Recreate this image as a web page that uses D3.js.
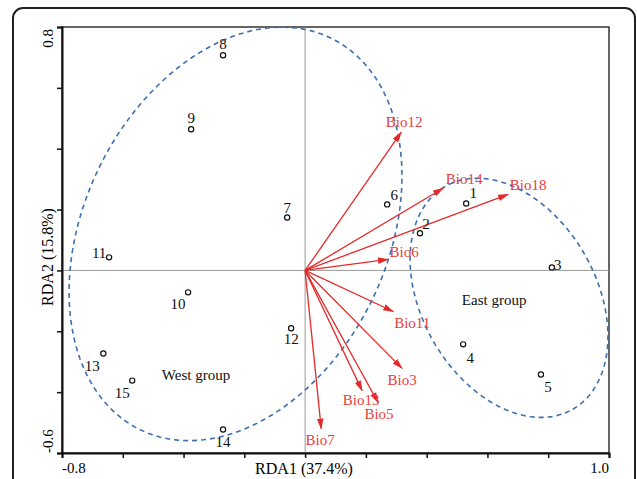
<!DOCTYPE html>
<html>

<head>
    <title>RDA biplot</title>
    <script src="https://d3js.org/d3.v7.min.js"></script>
    <style>
        body { margin: 0; background: #fff; }
        text { font-family: "Liberation Serif", "Times New Roman", serif; }
    </style>
</head>

<body>

    <svg width="637" height="479" id="mainSvg"></svg>
    <script>

        // sites (scores on RDA1 / RDA2)
        const sites = ["1", "2", "3", "4", "5", "6", "7", "8", "9", "10", "11", "12", "13", "14", "15"];
        const siteX = [0.53, 0.378, 0.812, 0.52, 0.776, 0.27, -0.059, -0.27, -0.375, -0.385, -0.645, -0.046, -0.664, -0.27, -0.569];
        const siteY = [0.22, 0.122, 0.01, -0.243, -0.342, 0.217, 0.174, 0.707, 0.464, -0.072, 0.043, -0.19, -0.273, -0.523, -0.362];

        // environmental vectors
        const bios = ["Bio12", "Bio14", "Bio18", "Bio6", "Bio11", "Bio3", "Bio13", "Bio5", "Bio7"];
        const bioX = [0.316, 0.454, 0.668, 0.273, 0.29, 0.319, 0.1875, 0.24, 0.053];
        const bioY = [0.454, 0.27, 0.25, 0.036, -0.135, -0.322, -0.395, -0.434, -0.52];

        // group ellipses: centre, semi axes, rotation (deg)
        const groups = ["West group", "East group"];
        const ellCX = [-0.229, 0.671];
        const ellCY = [0.12, -0.09];
        const ellA = [0.716, 0.422];
        const ellB = [0.499, 0.287];
        const ellAngle = [63.9, -60.2];
        const groupLabelX = [-0.359, 0.622];
        const groupLabelY = [-0.344, -0.097];

        const xTicks = [-0.8, -0.6, -0.4, -0.2, 0, 0.2, 0.4, 0.6, 0.8, 1.0];
        const yTicks = [-0.6, -0.4, -0.2, 0, 0.2, 0.4, 0.6, 0.8];
        const xTitle = "RDA1 (37.4%)";
        const yTitle = "RDA2 (15.8%)";

        const svg = d3.select("#mainSvg");
        const margin = { top: 27, right: 28, bottom: 26, left: 62 };
        const width = 637, height = 479;

        const x = d3.scaleLinear().domain([-0.8, 1.0]).range([margin.left, width - margin.right]);
        const y = d3.scaleLinear().domain([-0.6, 0.8]).range([height - margin.bottom, margin.top]);

        const red = "#e32a2a";
        const redText = "#e8403a";
        const blue = "#3d6fae";

        // outer rounded frame
        svg.append("rect")
            .attr("x", 13).attr("y", 8)
            .attr("width", 622).attr("height", 520)
            .attr("rx", 10)
            .attr("fill", "none")
            .attr("stroke", "#222")
            .attr("stroke-width", 2);

        // plot frame
        svg.append("rect")
            .attr("x", x(-0.8)).attr("y", y(0.8))
            .attr("width", x(1.0) - x(-0.8))
            .attr("height", y(-0.6) - y(0.8))
            .attr("fill", "none")
            .attr("stroke", "#333")
            .attr("stroke-width", 1.5);

        // zero lines
        svg.append("line")
            .attr("x1", x(0)).attr("x2", x(0))
            .attr("y1", y(0.8)).attr("y2", y(-0.6))
            .attr("stroke", "#999").attr("stroke-width", 1);
        svg.append("line")
            .attr("x1", x(-0.8)).attr("x2", x(1.0))
            .attr("y1", y(0)).attr("y2", y(0))
            .attr("stroke", "#999").attr("stroke-width", 1);

        // axes
        const xAxis = svg.append("g")
            .attr("transform", `translate(0, ${y(-0.6)})`)
            .call(d3.axisBottom(x).tickValues(xTicks).tickSize(5).tickFormat(""));
        const yAxis = svg.append("g")
            .attr("transform", `translate(${x(-0.8)}, 0)`)
            .call(d3.axisLeft(y).tickValues(yTicks).tickSize(5).tickFormat(""));
        [xAxis, yAxis].forEach(a => {
            a.select(".domain").attr("stroke", "#111").attr("stroke-width", 2);
            a.selectAll(".tick line").attr("stroke", "#111").attr("stroke-width", 1.5);
        });

        // end tick labels
        svg.append("text").attr("x", x(-0.8)).attr("y", 473)
            .attr("font-size", 15).attr("text-anchor", "start").text("-0.8");
        svg.append("text").attr("x", x(1.0)).attr("y", 473)
            .attr("font-size", 15).attr("text-anchor", "end").text("1.0");
        svg.append("text").attr("transform", `translate(53, ${y(0.8) + 2}) rotate(-90)`)
            .attr("font-size", 15).attr("text-anchor", "end").text("0.8");
        svg.append("text").attr("transform", `translate(53, ${y(-0.6)}) rotate(-90)`)
            .attr("font-size", 15).attr("text-anchor", "start").text("-0.6");

        // axis titles
        svg.append("text").attr("x", 304).attr("y", 474)
            .attr("font-size", 16).attr("text-anchor", "middle").text(xTitle);
        svg.append("text").attr("transform", "translate(53, 257) rotate(-90)")
            .attr("font-size", 16).attr("text-anchor", "middle").text(yTitle);

        // ellipses
        const ellLine = d3.line().x(d => x(d[0])).y(d => y(d[1]));
        groups.forEach((gname, i) => {
            const phi = ellAngle[i] * Math.PI / 180;
            const pts = d3.range(0, 361, 2).map(deg => {
                const t = deg * Math.PI / 180;
                const ex = ellA[i] * Math.cos(t), ey = ellB[i] * Math.sin(t);
                return [ellCX[i] + ex * Math.cos(phi) - ey * Math.sin(phi),
                        ellCY[i] + ex * Math.sin(phi) + ey * Math.cos(phi)];
            });
            svg.append("path")
                .attr("d", ellLine(pts))
                .attr("fill", "none")
                .attr("stroke", blue)
                .attr("stroke-width", 1.6)
                .attr("stroke-dasharray", "5,4");
            svg.append("text")
                .attr("x", x(groupLabelX[i])).attr("y", y(groupLabelY[i]))
                .attr("dy", "0.35em")
                .attr("font-size", 15).attr("text-anchor", "middle")
                .attr("fill", "#111")
                .text(gname);
        });

        // arrows
        svg.append("defs").append("marker")
            .attr("id", "arrow")
            .attr("markerUnits", "userSpaceOnUse")
            .attr("viewBox", "0 -4 11 8")
            .attr("refX", 10).attr("refY", 0)
            .attr("markerWidth", 11).attr("markerHeight", 8)
            .attr("orient", "auto")
            .append("path")
            .attr("d", "M0,-3.3L11,0L0,3.3Z")
            .attr("fill", red);

        // label offsets (px) from arrow tips
        const bioLabelOffset = {
            Bio12: [3, -11], Bio14: [21, -10], Bio18: [20, -10], Bio6: [16, -8],
            Bio11: [19, 11], Bio3: [0, 11], Bio13: [-1, 9], Bio5: [1, 11], Bio7: [-1, 11]
        };

        const bioData = bios.map((b, i) => ({ name: b, x: bioX[i], y: bioY[i] }));
        svg.append("g").selectAll("line").data(bioData).join("line")
            .attr("x1", x(0)).attr("y1", y(0))
            .attr("x2", d => x(d.x)).attr("y2", d => y(d.y))
            .attr("stroke", red)
            .attr("stroke-width", 1.3)
            .attr("marker-end", "url(#arrow)");
        svg.append("g").selectAll("text").data(bioData).join("text")
            .attr("x", d => x(d.x) + bioLabelOffset[d.name][0])
            .attr("y", d => y(d.y) + bioLabelOffset[d.name][1])
            .attr("dy", "0.35em")
            .attr("text-anchor", "middle")
            .attr("font-size", 15)
            .attr("fill", redText)
            .text(d => d.name);

        // sites
        const siteLabelOffset = [[7, -11], [6, -10], [6, -3], [7, 13], [7, 12], [7, -10], [0, -10], [0, -12],
                                 [0, -11], [-10, 11], [-10, -5], [0, 11], [-11, 12], [0, 12], [-10, 12]];
        const siteData = sites.map((s, i) => ({ name: s, x: siteX[i], y: siteY[i], off: siteLabelOffset[i] }));
        svg.append("g").selectAll("circle").data(siteData).join("circle")
            .attr("cx", d => x(d.x)).attr("cy", d => y(d.y))
            .attr("r", 2.6)
            .attr("fill", "#fff")
            .attr("stroke", "#111")
            .attr("stroke-width", 1.2);
        svg.append("g").selectAll("text").data(siteData).join("text")
            .attr("x", d => x(d.x) + d.off[0])
            .attr("y", d => y(d.y) + d.off[1])
            .attr("dy", "0.35em")
            .attr("text-anchor", "middle")
            .attr("font-size", 15)
            .attr("fill", "#111")
            .text(d => d.name);

    </script>
</body>

</html>
